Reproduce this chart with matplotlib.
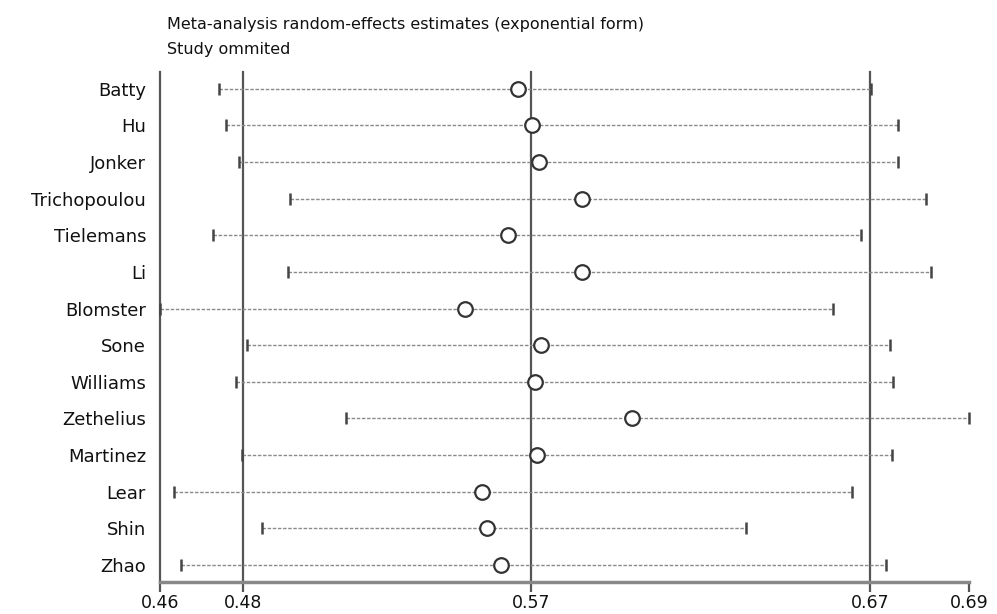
import matplotlib
matplotlib.use("Agg")
import matplotlib.pyplot as plt

studies = ["Batty", "Hu", "Jonker", "Trichopoulou", "Tielemans", "Li", "Blomster",
           "Sone", "Williams", "Zethelius", "Martinez", "Lear", "Shin", "Zhao"]
estimate = [0.5662, 0.5703, 0.5724, 0.5850, 0.5632, 0.5850, 0.5505,
            0.5730, 0.5712, 0.5998, 0.5718, 0.5555, 0.5570, 0.5612]
lower = [0.4780, 0.4800, 0.4839, 0.4989, 0.4762, 0.4983, 0.4606,
         0.4862, 0.4830, 0.5154, 0.4847, 0.4647, 0.4906, 0.4668]
upper = [0.6703, 0.6783, 0.6783, 0.6865, 0.6673, 0.6880, 0.6591,
         0.6759, 0.6768, 0.6992, 0.6765, 0.6647, 0.6334, 0.6747]

# axis ticks: min lower, overall CI low, overall estimate, overall CI high, max upper
tick_vals = [0.4606, 0.4850, 0.5700, 0.6700, 0.6992]
tick_labels = ["0.46", "0.48", "0.57", "0.67", "0.69"]
ref_lines = [0.4606, 0.4850, 0.5700, 0.6700]

plt.rcParams['font.family'] = ['DejaVu Sans']

fig = plt.figure(figsize=(9.97, 6.14), dpi=100)
ax = fig.add_axes([160 / 997, 1 - 582 / 614, 809 / 997, 510 / 614])

n = len(studies)
rows = list(range(n))

for v in ref_lines:
    ax.axvline(v, color='#555555', lw=1.6, zorder=1, clip_on=False)

for i in rows:
    ax.plot([lower[i], upper[i]], [i, i], color='#8a8a8a', lw=1.0,
            linestyle=(0, (2.5, 1.2)), zorder=2)
ax.plot(lower, rows, linestyle='none', marker='|', markersize=8, mew=1.8,
        color='#444444', zorder=3, clip_on=False)
ax.plot(upper, rows, linestyle='none', marker='|', markersize=8, mew=1.8,
        color='#444444', zorder=3, clip_on=False)
ax.plot(estimate, rows, linestyle='none', marker='o', markersize=10.5,
        markerfacecolor='white', markeredgecolor='#333333', mew=1.6, zorder=4)

ax.set_xlim(tick_vals[0], tick_vals[-1])
ax.set_ylim(n - 1 + 0.47, -0.46)

ax.set_yticks(rows)
ax.set_yticklabels(studies, fontsize=13, color='#111111')
ax.tick_params(axis='y', length=0, pad=10)

ax.set_xticks(tick_vals)
ax.set_xticklabels(tick_labels, fontsize=12.5, color='#111111')
ax.tick_params(axis='x', length=7, width=1.6, color='#555555', pad=2)

for s in ['top', 'right', 'left']:
    ax.spines[s].set_visible(False)
ax.spines['bottom'].set_color('#888888')
ax.spines['bottom'].set_linewidth(2.5)

fig.text(167 / 997, 1 - 29 / 614, "Meta-analysis random-effects estimates (exponential form)",
         fontsize=11.5, color='#111111', va='baseline', ha='left')
fig.text(167 / 997, 1 - 54 / 614, "Study ommited",
         fontsize=11.5, color='#111111', va='baseline', ha='left')

fig.savefig("out.png", dpi=100)
